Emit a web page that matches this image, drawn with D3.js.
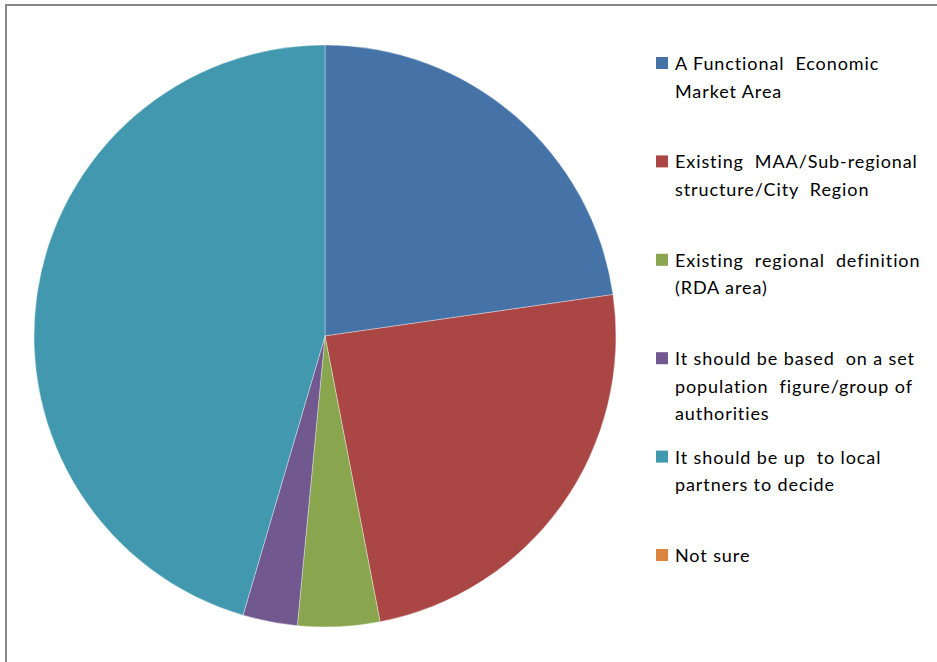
<!DOCTYPE html>
<html>
<head>
<meta charset="utf-8">
<script src="https://cdn.jsdelivr.net/npm/d3@7"></script>
<style>
  html, body { margin: 0; padding: 0; background: #fff; }
  svg { display: block; }
  .legend text { font-family: Lato, "Liberation Sans", sans-serif; font-size: 18px; letter-spacing: 0.9px; fill: #000; }
</style>
</head>
<body>
<svg id="chart" width="937" height="662"></svg>
<script>
// Survey responses: what geography should the arrangement be based on
const categories = [
  "A Functional Economic Market Area",
  "Existing MAA/Sub-regional structure/City Region",
  "Existing regional definition (RDA area)",
  "It should be based on a set population figure/group of authorities",
  "It should be up to local partners to decide",
  "Not sure"
];
const legendLines = [
  ["A Functional  Economic", "Market Area"],
  ["Existing  MAA/Sub-regional", "structure/City  Region"],
  ["Existing  regional  definition", "(RDA area)"],
  ["It should be based  on a set", "population  figure/group of", "authorities"],
  ["It should be up  to local", "partners to decide"],
  ["Not sure"]
];
const responses = [15, 16, 3, 2, 30, 0];
const colors = ["#4572A7", "#AA4643", "#89A54E", "#71588F", "#4198AF", "#DB843D"];

const svg = d3.select("#chart");

// Outer chart frame (right and bottom edges fall outside the view)
svg.append("rect")
  .attr("x", 6).attr("y", 5)
  .attr("width", 960).attr("height", 700)
  .attr("fill", "none")
  .attr("stroke", "#868686")
  .attr("stroke-width", 2);

const cx = 325, cy = 336, radius = 291;

const pie = d3.pie().sort(null).value(d => d.value);
const arc = d3.arc().innerRadius(0).outerRadius(radius);
const data = categories.map((c, i) => ({ name: c, value: responses[i], color: colors[i] }));

svg.append("g")
  .attr("transform", `translate(${cx},${cy})`)
  .selectAll("path")
  .data(pie(data).filter(d => d.data.value > 0))
  .join("path")
  .attr("d", arc)
  .attr("fill", d => d.data.color)
  .attr("stroke", "rgba(255,255,255,0.5)")
  .attr("stroke-width", 0.7);

// Legend
const legendY = d3.scaleLinear().domain([0, categories.length - 1]).range([63, 555]);
const lineH = 27.5;
const legend = svg.append("g").attr("class", "legend");
const items = legend.selectAll("g")
  .data(data)
  .join("g")
  .attr("transform", (d, i) => `translate(656,${legendY(i)})`);

items.append("rect")
  .attr("x", 0).attr("y", -6)
  .attr("width", 12).attr("height", 12)
  .attr("fill", d => d.color);

items.each(function(d, i) {
  const t = d3.select(this).append("text")
    .attr("x", 19).attr("y", 0)
    .attr("dominant-baseline", "central")
    .style("white-space", "pre");
  legendLines[i].forEach((line, j) => {
    t.append("tspan").attr("x", 19).attr("y", j * lineH).text(line);
  });
});
</script>
</body>
</html>
